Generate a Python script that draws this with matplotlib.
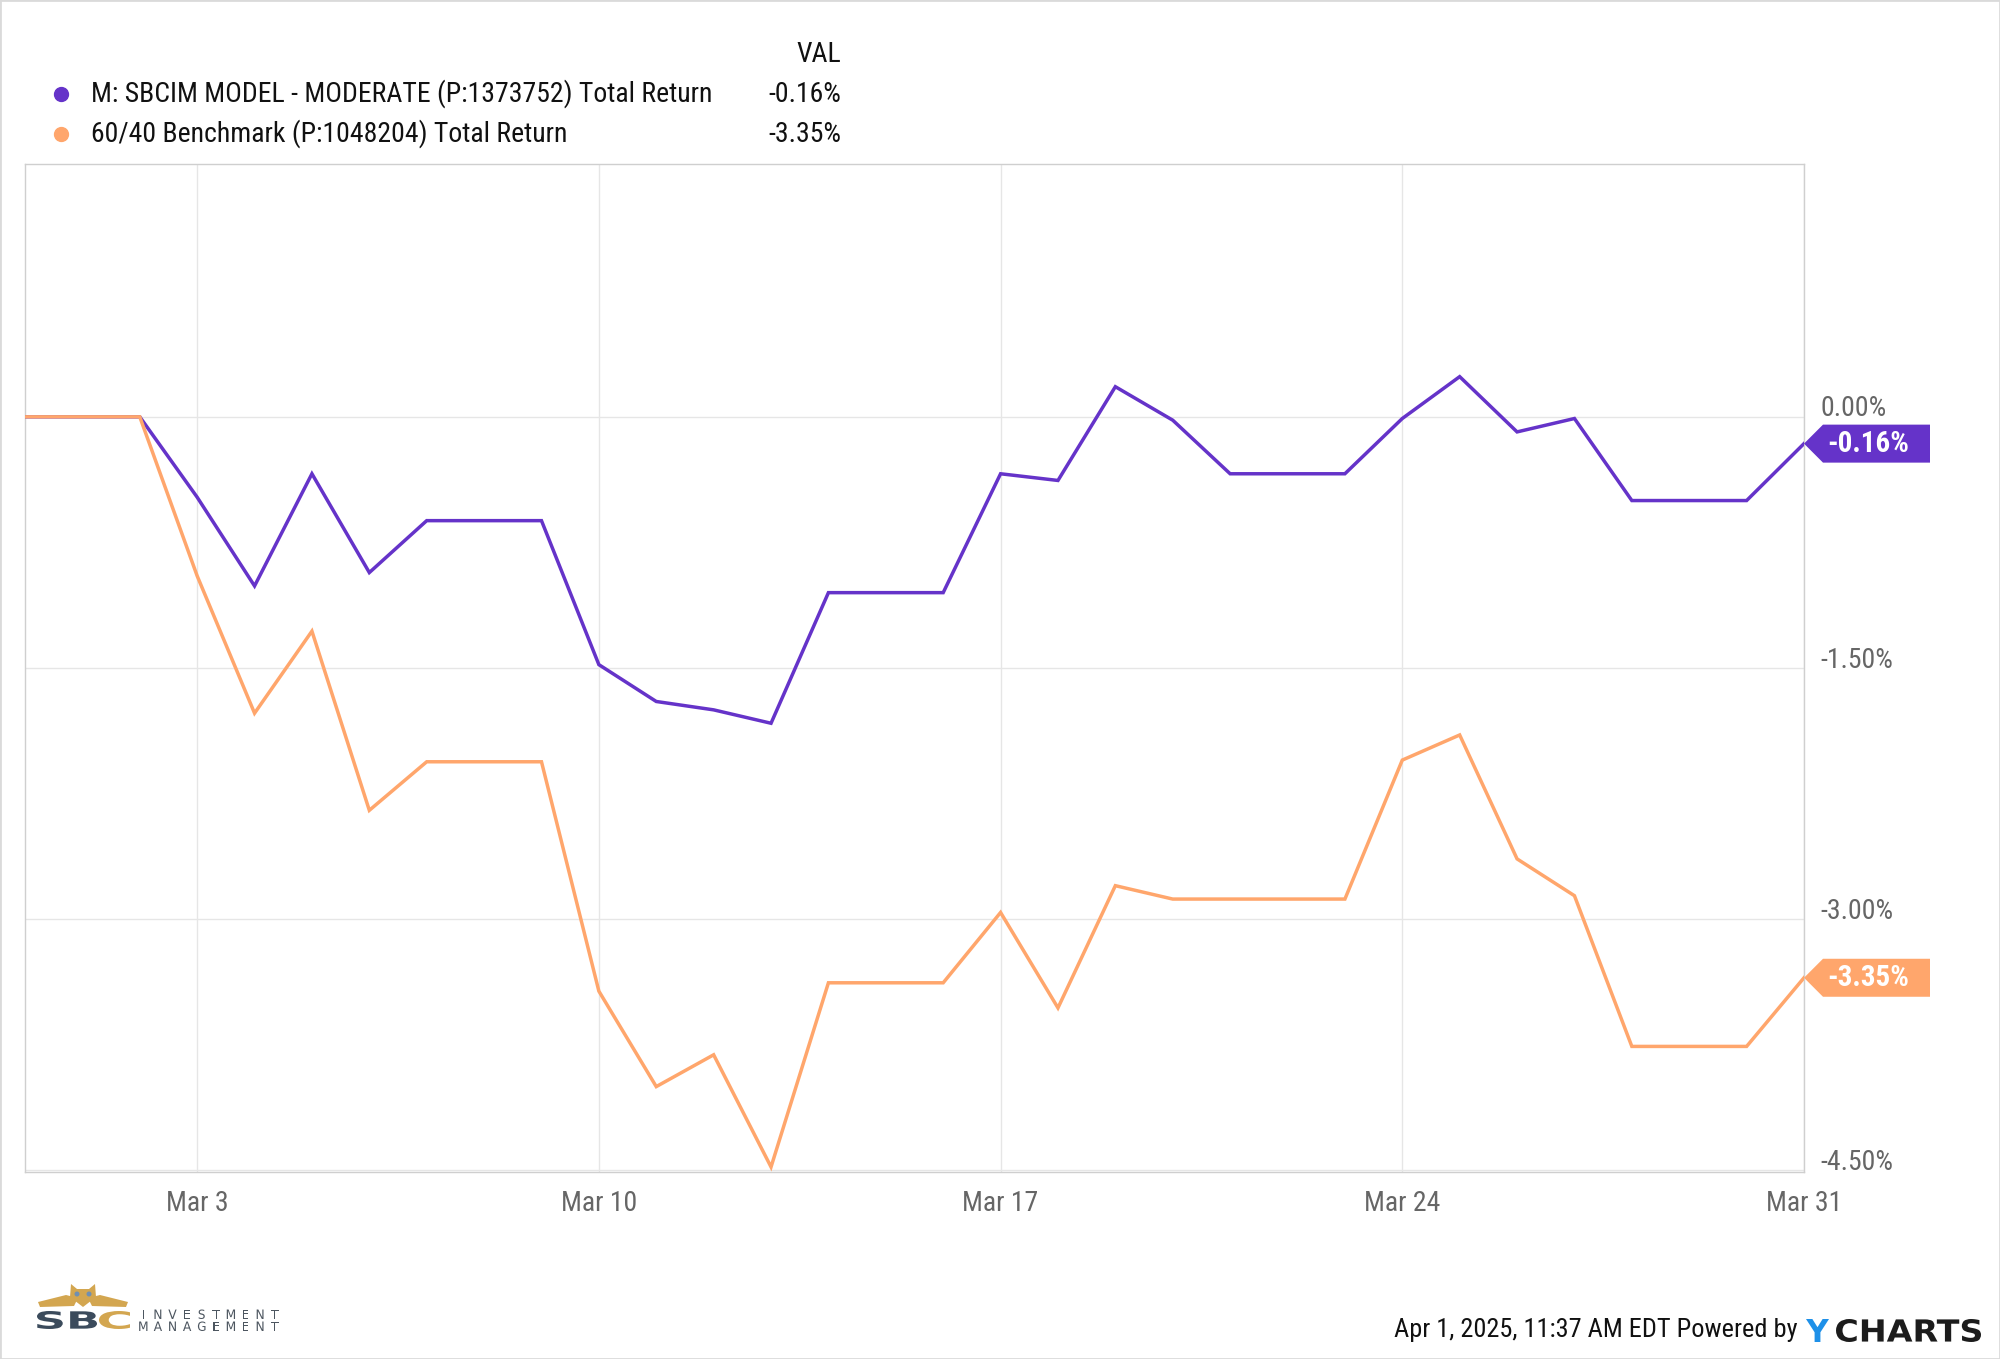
import matplotlib
matplotlib.use("Agg")
import matplotlib.pyplot as plt
import matplotlib.dates as mdates
from matplotlib.patches import Polygon, PathPatch, Rectangle, Circle
from matplotlib.textpath import TextPath
from matplotlib.font_manager import FontProperties
from matplotlib.lines import Line2D
from matplotlib.transforms import Affine2D, IdentityTransform, ScaledTranslation
import pandas as pd

# --- data -------------------------------------------------------------
dates = pd.date_range("2025-02-28", "2025-03-31", freq="D")

model = [0.00, 0.00, 0.00, -0.48, -1.01, -0.34, -0.93, -0.62, -0.62, -0.62,
         -1.48, -1.70, -1.75, -1.83, -1.05, -1.05, -1.05, -0.34, -0.38, 0.18,
         -0.02, -0.34, -0.34, -0.34, -0.01, 0.24, -0.09, -0.01, -0.50, -0.50,
         -0.50, -0.16]
bench = [0.00, 0.00, 0.00, -0.95, -1.77, -1.28, -2.35, -2.06, -2.06, -2.06,
         -3.43, -4.00, -3.81, -4.48, -3.38, -3.38, -3.38, -2.96, -3.53, -2.80,
         -2.88, -2.88, -2.88, -2.88, -2.05, -1.90, -2.64, -2.86, -3.76, -3.76,
         -3.76, -3.35]

series_names = ["M: SBCIM MODEL - MODERATE (P:1373752) Total Return",
                "60/40 Benchmark (P:1048204) Total Return"]
series_vals = ["-0.16%", "-3.35%"]
colors = ["#6533C9", "#FFA66C"]

tick_dates = pd.to_datetime(["2025-03-03", "2025-03-10", "2025-03-17",
                             "2025-03-24", "2025-03-31"])
tick_labels = ["Mar 3", "Mar 10", "Mar 17", "Mar 24", "Mar 31"]
y_ticks = [0.0, -1.5, -3.0, -4.5]
y_labels = ["0.00%", "-1.50%", "-3.00%", "-4.50%"]

# --- figure -----------------------------------------------------------
plt.rcParams["font.family"] = ["Roboto Condensed", "Liberation Sans Narrow", "Roboto", "DejaVu Sans"]

W, H = 2000, 1359
fig = plt.figure(figsize=(W / 100, H / 100), dpi=100)
fig.patch.set_facecolor("white")


def fx(px):
    return px / W


def fy(py):
    return 1 - py / H


ax = fig.add_axes([fx(25), fy(1172), fx(1804) - fx(25), fy(164) - fy(1172)])

for vals, c in zip([model, bench], colors):
    ax.plot(dates, vals, color=c, lw=2.5, solid_joinstyle="miter", zorder=3)

ax.set_xlim(dates[0], dates[-1])
ax.set_ylim(-4.51, 1.51)
ax.set_xticks(tick_dates)
ax.set_xticklabels(tick_labels)
ax.set_yticks(y_ticks)
ax.set_yticklabels(y_labels)
ax.yaxis.tick_right()
ax.tick_params(axis="both", length=0, labelsize=20, labelcolor="#666666")
ax.tick_params(axis="x", pad=13)
ax.tick_params(axis="y", pad=12)
for lab in ax.get_yticklabels():
    lab.set_transform(lab.get_transform() + ScaledTranslation(0, 0.11, fig.dpi_scale_trans))
ax.grid(color="#e6e6e6", lw=1)
for s in ax.spines.values():
    s.set_color("#cfcfcf")
    s.set_linewidth(1)

# value tags at the right edge
x_last = mdates.date2num(dates[-1])
for vals, c, txt in zip([model, bench], colors, series_vals):
    tx, ty = ax.transData.transform((x_last, vals[-1]))
    h = 19
    tag = Polygon([(tx, ty), (tx + 19, ty + h), (tx + 126, ty + h),
                   (tx + 126, ty - h), (tx + 19, ty - h)], closed=True,
                  transform=IdentityTransform(), facecolor=c, edgecolor="none")
    fig.add_artist(tag)
    fig.text(tx + 23, ty, txt, transform=IdentityTransform(), color="white",
             fontsize=21, fontweight="bold", va="center", ha="left")

# legend header
fig.text(fx(841), fy(54), "VAL", ha="right", va="center", fontsize=20, color="#111111")
for i, (name, v, c) in enumerate(zip(series_names, series_vals, colors)):
    yy = fy(94 + 40 * i)
    fig.add_artist(Line2D([fx(61)], [yy], marker="o", ms=10, color=c,
                          transform=fig.transFigure))
    fig.text(fx(91), yy, name, ha="left", va="center", fontsize=20, color="#111111")
    fig.text(fx(841), yy, v, ha="right", va="center", fontsize=20, color="#111111")


# --- logos / footer ---------------------------------------------------
def fit_text(s, x0, x1, y_bottom, cap, color, weight="bold", family="DejaVu Sans"):
    tp = TextPath((0, 0), s, size=100, prop=FontProperties(family=family, weight=weight))
    ext = tp.get_extents()
    tr = (Affine2D().translate(-ext.x0, -ext.y0)
          .scale((x1 - x0) / ext.width, cap / ext.height)
          .translate(x0, H - y_bottom))
    fig.add_artist(PathPatch(tp, transform=tr, facecolor=color, edgecolor="none"))


def spaced_text(s, x0, x1, y_bottom, cap, color):
    step = (x1 - x0) / len(s)
    for k, ch in enumerate(s):
        tp = TextPath((0, 0), ch, size=100, prop=FontProperties(family="DejaVu Sans"))
        ext = tp.get_extents()
        sc = cap / ext.height
        cx = x0 + step * (k + 0.5)
        tr = (Affine2D().translate(-ext.x0 - ext.width / 2, -ext.y0)
              .scale(sc * 0.95, sc).translate(cx, H - y_bottom))
        fig.add_artist(PathPatch(tp, transform=tr, facecolor=color, edgecolor="none"))


fig.text(fx(1798), fy(1330), "Apr 1, 2025, 11:37 AM EDT Powered by", ha="right",
         va="center", fontsize=19, color="#111111")
fit_text("Y", 1806, 1829, 1342, 23, "#1E90E8")
fit_text("CHARTS", 1836, 1981, 1342, 23, "#1c1c1c")

gold = "#D3A650"
fit_text("SB", 37, 97, 1329, 18, "#3B4B5C")
fit_text("C", 99, 130, 1329, 18, gold)
spaced_text("INVESTMENT", 136, 282, 1319, 9.5, "#4d5660")
spaced_text("MANAGEMENT", 136, 282, 1331, 9.5, "#4d5660")
owl = [
    [(38, 1302), (66, 1295), (78, 1298), (74, 1306), (40, 1307)],
    [(128, 1302), (100, 1295), (88, 1298), (92, 1306), (126, 1307)],
    [(71, 1284), (77, 1289), (89, 1289), (95, 1284), (96, 1297), (83, 1307), (70, 1297)],
]
for pts in owl:
    fig.add_artist(Polygon([(px, H - py) for px, py in pts], closed=True,
                           transform=IdentityTransform(), facecolor=gold, edgecolor="none"))
for ex in (77, 89):
    fig.add_artist(Circle((ex, H - 1294), 2.5, transform=IdentityTransform(),
                          facecolor="#6f8fb3", edgecolor="none"))

fig.add_artist(Rectangle((0, 0), 1, 1, transform=fig.transFigure, fill=False,
                         edgecolor="#dadada", lw=2))

fig.savefig("out.png", dpi=100)
